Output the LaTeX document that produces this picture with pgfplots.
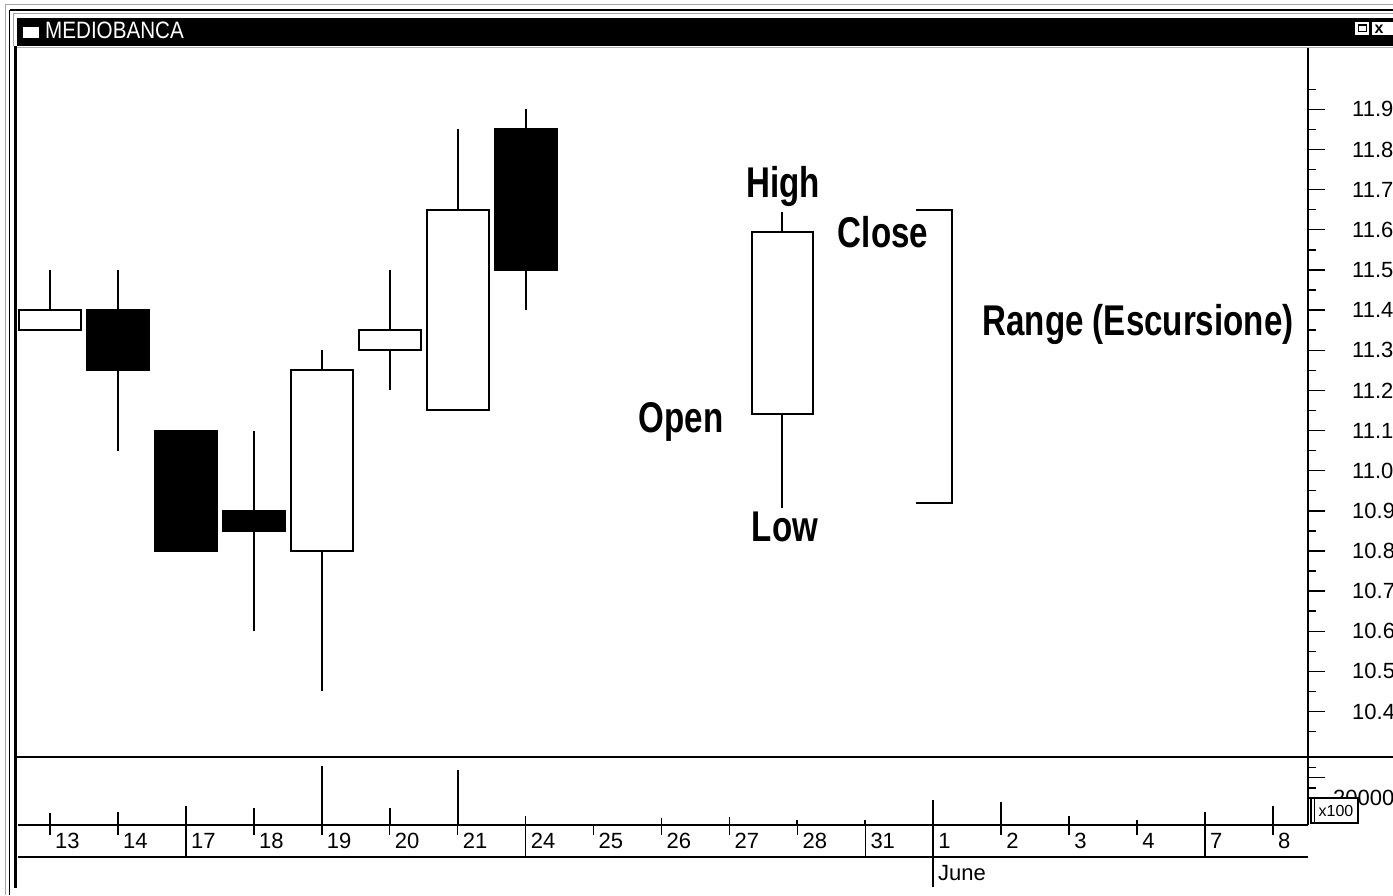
\documentclass[border=0pt]{standalone}
\usepackage{fontspec}
\setmainfont{Liberation Sans}
\usepackage{graphicx}
\usepackage{pgfplots}
\pgfplotsset{compat=1.18}
\usepgfplotslibrary{statistics}
\newcommand{\lbl}[1]{\scalebox{0.77}[1]{\fontsize{43}{43}\selectfont\bfseries #1}}
\begin{document}
\begin{tikzpicture}
\path[use as bounding box] (0,0) rectangle (1393pt,895pt);
\clip (0,0) rectangle (1393pt,895pt);
\fill[white] (0,0) rectangle (1393pt,895pt);

% ---------------- price panel ----------------
\begin{axis}[
  at={(18pt,138pt)}, anchor=south west, width=1290pt, height=709pt, scale only axis,
  xmin=-0.471, xmax=18.516, ymin=10.2868, ymax=12.0527,
  axis x line=none, axis y line*=right,
  axis line style={line width=1.8pt},
  ytick={10.4,10.5,10.6,10.7,10.8,10.9,11.0,11.1,11.2,11.3,11.4,11.5,11.6,11.7,11.8,11.9},
  minor ytick={10.35,10.45,10.55,10.65,10.75,10.85,10.95,11.05,11.15,11.25,11.35,11.45,11.55,11.65,11.75,11.85,11.95},
  tick align=outside, major tick length=17pt, minor tick length=8pt,
  tick style={black, line width=1.4pt},
  scaled y ticks=false,
  yticklabel style={anchor=west, inner sep=0pt, xshift=27pt, font=\fontsize{22}{22}\selectfont,
    /pgf/number format/fixed, /pgf/number format/precision=1,
    /pgf/number format/fixed zerofill, /pgf/number format/assume math mode=true},
  boxplot/draw direction=y,
]
% candles: draw position, low, min(open,close), max(open,close), high
\addplot[boxplot prepared={draw position=0, lower whisker=11.35, lower quartile=11.35, median=11.35, upper quartile=11.40, upper whisker=11.50, box extend=0.91, whisker extend=0}, draw=black, fill=white, line width=2pt] coordinates {};
\addplot[boxplot prepared={draw position=1, lower whisker=11.05, lower quartile=11.25, median=11.25, upper quartile=11.40, upper whisker=11.50, box extend=0.91, whisker extend=0}, draw=black, fill=black, line width=2pt] coordinates {};
\addplot[boxplot prepared={draw position=2, lower whisker=10.80, lower quartile=10.80, median=10.80, upper quartile=11.10, upper whisker=11.10, box extend=0.91, whisker extend=0}, draw=black, fill=black, line width=2pt] coordinates {};
\addplot[boxplot prepared={draw position=3, lower whisker=10.60, lower quartile=10.85, median=10.85, upper quartile=10.90, upper whisker=11.10, box extend=0.91, whisker extend=0}, draw=black, fill=black, line width=2pt] coordinates {};
\addplot[boxplot prepared={draw position=4, lower whisker=10.45, lower quartile=10.80, median=10.80, upper quartile=11.25, upper whisker=11.30, box extend=0.91, whisker extend=0}, draw=black, fill=white, line width=2pt] coordinates {};
\addplot[boxplot prepared={draw position=5, lower whisker=11.20, lower quartile=11.30, median=11.30, upper quartile=11.35, upper whisker=11.50, box extend=0.91, whisker extend=0}, draw=black, fill=white, line width=2pt] coordinates {};
\addplot[boxplot prepared={draw position=6, lower whisker=11.15, lower quartile=11.15, median=11.15, upper quartile=11.65, upper whisker=11.85, box extend=0.91, whisker extend=0}, draw=black, fill=white, line width=2pt] coordinates {};
\addplot[boxplot prepared={draw position=7, lower whisker=11.40, lower quartile=11.50, median=11.50, upper quartile=11.85, upper whisker=11.90, box extend=0.91, whisker extend=0}, draw=black, fill=black, line width=2pt] coordinates {};
% example candle
\addplot[boxplot prepared={draw position=10.78, lower whisker=10.907, lower quartile=11.14, median=11.14, upper quartile=11.595, upper whisker=11.645, box extend=0.9, whisker extend=0}, draw=black, fill=white, line width=2pt] coordinates {};
% range bracket
\addplot[black, line width=2pt, mark=none] coordinates {(12.747,11.649)(13.276,11.649)(13.276,10.920)(12.747,10.920)};
\end{axis}

% ---------------- volume panel ----------------
\begin{axis}[
  at={(18pt,70pt)}, anchor=south west, width=1290pt, height=68pt, scale only axis,
  xmin=-0.471, xmax=18.516, ymin=0, ymax=50370,
  axis x line=none, axis y line*=right, axis line style={line width=1.8pt},
  ytick={20000,35000,50000}, yticklabels={20000,,}, minor ytick={27500,42500},
  scaled y ticks=false,
  tick align=outside, major tick length=17pt, minor tick length=8pt,
  tick style={black, line width=1.4pt},
  yticklabel style={anchor=west, inner sep=0pt, xshift=8pt, font=\fontsize{22}{22}\selectfont},
]
\addplot[ycomb, black, line width=1.8pt, mark=none] coordinates {
(0,8900)(1,9600)(2,14100)(3,12600)(4,43700)(5,12600)(6,40700)(7,6700)
(9,5200)(10,5900)(11,3700)(12,3700)(13,18500)(14,17000)(15,6700)(16,3700)(17,9600)(18,14100)};
\end{axis}

% ---------------- date strip ----------------
\begin{axis}[
  at={(18pt,38pt)}, anchor=south west, width=1290pt, height=32pt, scale only axis,
  xmin=-0.471, xmax=18.516, ymin=0, ymax=1,
  axis x line=box, axis y line=none,
  axis line style={line width=1.6pt},
  xtick={0,1,2,3,4,5,6,7,8,9,10,11,12,13,14,15,16,17,18},
  xticklabels={13,14,17,18,19,20,21,24,25,26,27,28,31,1,2,3,4,7,8},
  xtick pos=right, xticklabel pos=right, xtick align=inside, major tick length=10pt,
  tick style={black, line width=1.5pt},
  xticklabel style={anchor=north west, inner sep=0pt, xshift=5pt, yshift=-8pt, font=\fontsize{22}{22}\selectfont},
  extra x ticks={2,7,12,13,17}, extra x tick labels={},
  extra x tick style={grid=major, major grid style={black, line width=1.6pt}},
]
\addplot[draw=none] coordinates {(0,0.5)};
\end{axis}
\draw[black, line width=1.6pt] (933.2pt,38pt) -- (933.2pt,8pt);
\node[anchor=north west, inner sep=0pt, font=\fontsize{22}{22}\selectfont] at (938pt,30pt) {June};

% x100 box
\draw[fill=white, line width=1.2pt] (1311pt,72pt) rectangle (1358pt,97pt);
\draw[line width=1pt] (1314pt,72pt) -- (1314pt,97pt);
\node[inner sep=0pt, font=\fontsize{16}{16}\selectfont] at (1336pt,84.5pt) {x100};

% annotations
\node[anchor=base] at (783pt,697pt) {\lbl{High}};
\node[anchor=base] at (883pt,647pt) {\lbl{Close}};
\node[anchor=base] at (681pt,462pt) {\lbl{Open}};
\node[anchor=base] at (785pt,353pt) {\lbl{Low}};
\node[anchor=base] at (1138pt,559pt) {\lbl{Range (Escursione)}};

% ---------------- window frame ----------------
\draw[gray!70, line width=1pt] (5pt,890pt) -- (1393pt,890pt);
\draw[gray!70, line width=1pt] (5pt,890pt) -- (5pt,0pt);
\draw[black, line width=1.6pt] (9.5pt,885pt) -- (1393pt,885pt);
\draw[black, line width=1.6pt] (9.5pt,885pt) -- (9.5pt,0pt);
\draw[gray!70, line width=1pt] (13pt,881pt) -- (1393pt,881pt);
\draw[gray!70, line width=1pt] (13pt,881pt) -- (13pt,849pt);
\fill[black] (17pt,849pt) rectangle (1393pt,877pt);
\draw[gray!60, line width=1pt] (17pt,847pt) -- (1393pt,847pt);
\fill[black] (13.5pt,7pt) rectangle (17pt,849pt);
\draw[black, line width=2.8pt] (16pt,138pt) -- (1393pt,138pt);
% title
\fill[white] (23pt,857pt) rectangle (39pt,868pt);
\node[anchor=base west, inner sep=0pt, text=white] at (45pt,856pt) {\scalebox{0.87}[1]{\fontsize{23.7}{24}\selectfont MEDIOBANCA}};
% window buttons
\fill[white] (1355pt,860pt) rectangle (1369pt,873pt);
\draw[black, line width=1pt] (1358pt,863pt) rectangle (1366pt,870pt);
\draw[black, line width=2pt] (1358pt,869.5pt) -- (1366pt,869.5pt);
\fill[white] (1372pt,860pt) rectangle (1393pt,873pt);
\node[inner sep=0pt, font=\fontsize{16}{16}\selectfont\bfseries] at (1379pt,866pt) {x};
\end{tikzpicture}
\end{document}
